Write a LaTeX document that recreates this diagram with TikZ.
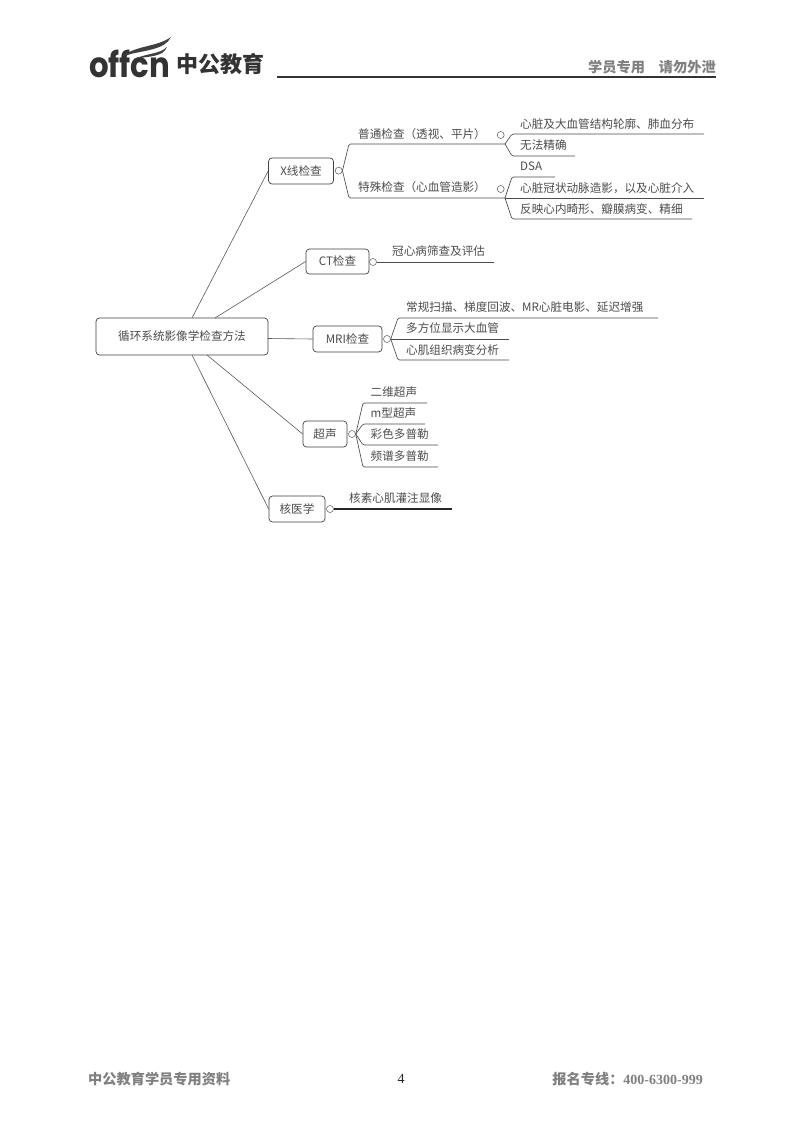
\documentclass[tikz,border=0pt]{standalone}
\usepackage{fontspec}
\setmainfont{Noto Sans CJK SC}
\newfontfamily\numfont{Liberation Serif}
\newfontfamily\logofont{Poppins}

\tikzset{
  topic/.style={draw=black!75,line width=.7pt,rounded corners=3.5pt,inner sep=0,text=black!70,font=\fontsize{11.6}{12}\selectfont},
  leaf/.style={anchor=west,inner sep=0,text=black!70,font=\fontsize{11.6}{12}\selectfont},
  hub/.style={draw=black!65,circle,line width=.5pt,inner sep=0,minimum size=7pt},
  branch/.style={draw=black!70,line width=.65pt,rounded corners=1.5pt},
  spoke/.style={draw=black!65,line width=.6pt},
  marginal/.style={inner sep=0,text=black!50,font=\fontsize{14.2}{15}\selectfont\bfseries}
}

\begin{document}
\begin{tikzpicture}[x=1pt,y=-1pt]
  \useasboundingbox[fill=white] (0,0) rectangle (800,1132);

% HEADER ======================================================================
  \node[inner sep=0,anchor=west,text=black!80,xscale=.88] (brand) at (89,63.5) {\logofont\fontsize{35}{36}\selectfont\bfseries offcn};
  \fill[black!75] (122,56) .. controls (138,45) and (157,47) .. (171,37) .. controls (165,50) and (145,50) .. (122,56);
  \fill[black!75] (134,59) .. controls (148,53) and (160,54) .. (167,47) .. controls (163,57) and (150,56) .. (134,59);
  \node[inner sep=0,anchor=west,text=black!80] (brandcn) at (176.5,64) {\fontsize{22}{23}\selectfont\bfseries 中公教育};
  \coordinate (ruleleft) at (277,77);
  \coordinate (ruleright) at (716,77);
  \draw[black!80,line width=1.6pt] (ruleleft) to (ruleright);
  \node[marginal,anchor=east] (secret) at (716,67) {学员专用\hspace{14pt}请勿外泄};

% MAIN TOPICS =================================================================
  \node[topic,minimum width=172pt,minimum height=37pt] (root) at (182,336.5) {循环系统影像学检查方法};
  \node[topic,minimum width=65pt,minimum height=26pt] (xray) at (301,171) {X线检查};
  \node[topic,minimum width=63pt,minimum height=25pt] (ct) at (337.5,261.5) {CT检查};
  \node[topic,minimum width=69pt,minimum height=26pt] (mri) at (347.5,339) {MRI检查};
  \node[topic,minimum width=44pt,minimum height=26pt] (us) at (325,434) {超声};
  \node[topic,minimum width=56pt,minimum height=26pt] (nm) at (297,509) {核医学};

  \coordinate (rootxray) at (192,318);
  \coordinate (rootct) at (215,318);
  \coordinate (rootmri) at (268,338.5);
  \coordinate (rootus) at (207,355);
  \coordinate (rootnm) at (192,355);
  \draw[spoke] (rootxray) to (xray.west);
  \draw[spoke] (rootct) to (ct.west);
  \draw[spoke] (rootmri) to (mri.west);
  \draw[spoke] (rootus) to (us.west);
  \draw[spoke] (rootnm) to (nm.west);

% X-RAY =======================================================================
  \node[hub] (xhub) at (338.7,170.7) {};
  \node[hub] (plainhub) at (500.7,135) {};
  \node[hub] (specialhub) at (500.7,189) {};
  \node[leaf] (plain) at (358,134) {普通检查（透视、平片）};
  \node[leaf] (special) at (358,187.5) {特殊检查（心血管造影）};
  \coordinate (plainfork) at (505,144);
  \coordinate (specialfork) at (505,198);
  \draw[branch] (xhub.east) to (349,144) to (plainfork);
  \draw[branch] (xhub.east) to (349,198) to (specialfork);

  \foreach \name/\ypos/\xend/\label in {a/124/704/心脏及大血管结构轮廓、肺血分布,b/145/575/无法精确} {
    \node[leaf] (plain\name) at (520,\ypos) {\label};
  }
  \draw[branch] (plainfork) to (512,134) to (704,134);
  \draw[branch] (plainfork) to (512,156) to (575,156);

  \node[leaf] (speciala) at (520,166.5) {DSA};
  \node[leaf] (specialb) at (520,188) {心脏冠状动脉造影，以及心脏介入};
  \node[leaf] (specialc) at (520,209) {反映心内畸形、瓣膜病变、精细};
  \draw[branch] (specialfork) to (512,177) to (555,177);
  \draw[branch] (specialfork) to (704,198);
  \draw[branch] (specialfork) to (512,219) to (692,219);

% CT ==========================================================================
  \node[hub] (cthub) at (373,262) {};
  \node[leaf] (cta) at (392,251) {冠心病筛查及评估};
  \coordinate (ctend) at (494,262);
  \draw[branch] (cthub.east) to (ctend);

% MRI =========================================================================
  \node[hub] (mrihub) at (387,339) {};
  \node[leaf] (mria) at (406,307) {常规扫描、梯度回波、MR心脏电影、延迟增强};
  \node[leaf] (mrib) at (406,328) {多方位显示大血管};
  \node[leaf] (mric) at (406,350) {心肌组织病变分析};
  \draw[branch] (mrihub.east) to (398,318) to (658,318);
  \draw[branch] (mrihub.east) to (509,339);
  \draw[branch] (mrihub.east) to (398,360) to (509,360);

% ULTRASOUND ==================================================================
  \node[hub] (ushub) at (352,434) {};
  \foreach \name/\ypos/\label in {a/392/二维超声,b/413.5/m型超声,c/434/彩色多普勒,d/456/频谱多普勒} {
    \node[leaf] (us\name) at (370.5,\ypos) {\label};
  }
  \foreach \ypos/\xend in {403/427,424/425,445/438,467/438} {
    \draw[branch] (ushub.east) to (363,\ypos) to (\xend,\ypos);
  }

% NUCLEAR =====================================================================
  \node[hub] (nmhub) at (330,509) {};
  \node[leaf] (nma) at (349,498) {核素心肌灌注显像};
  \coordinate (nmend) at (452,509);
  \draw[black!85,line width=1.1pt] (nmhub.east) to (nmend);

% FOOTER ======================================================================
  \node[marginal,anchor=west] (footleft) at (88,1079) {中公教育学员专用资料};
  \node[inner sep=0,text=black!85] (pageno) at (401,1078.5) {\numfont\fontsize{14}{15}\selectfont 4};
  \node[marginal,anchor=east] (footright) at (703,1079) {报名专线：\numfont\fontsize{14}{15}\selectfont\bfseries 400-6300-999};
\end{tikzpicture}
\end{document}
